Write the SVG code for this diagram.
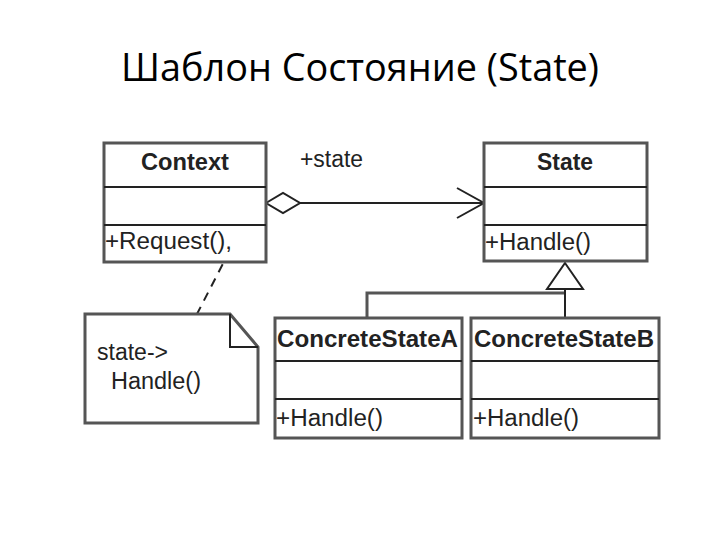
<svg xmlns="http://www.w3.org/2000/svg" width="720" height="540" viewBox="0 0 720 540">
<style>
.box{fill:#fff;stroke:#555;stroke-width:3}
.div{stroke:#222;stroke-width:2}
.t{font-family:"Liberation Sans",Arial,sans-serif;font-size:23px;fill:#222}
.b{font-weight:bold}
.ln{fill:none;stroke:#222;stroke-width:2}
.title{font-family:"Open Sans","Noto Sans","Liberation Sans",sans-serif;font-size:38px;fill:#000}
</style>
<rect width="720" height="540" fill="#fff"/>
<text class="title" x="360" y="81" text-anchor="middle" textLength="478" lengthAdjust="spacingAndGlyphs">Шаблон Состояние (State)</text>

<g id="connectors">
  <path class="ln" d="M300,203 H484"/>
  <path class="ln" d="M457,188 L484,203 L457,218"/>
  <path class="ln" d="M266,203 L283,193 L300,203 L283,213 Z" fill="#fff"/>
  <path d="M230,250 L197,314" fill="none" stroke="#222" stroke-width="2" stroke-dasharray="9,7"/>
  <path d="M367,318 V293 H565" fill="none" stroke="#555" stroke-width="3"/>
  <path class="ln" d="M565,318 V289"/>
  <path class="ln" d="M565,263 L583,289 H547 Z" fill="#fff"/>
</g>

<g id="context">
  <rect class="box" x="104" y="143" width="162" height="119"/>
  <line class="div" x1="104" y1="187" x2="266" y2="187"/>
  <line class="div" x1="104" y1="225" x2="266" y2="225"/>
  <text class="t b" x="185" y="170" text-anchor="middle" textLength="88" lengthAdjust="spacingAndGlyphs">Context</text>
  <text class="t" x="105" y="249" textLength="127" lengthAdjust="spacingAndGlyphs">+Request(),</text>
</g>

<g id="state-label">
  <text class="t" x="300" y="167" textLength="63" lengthAdjust="spacingAndGlyphs">+state</text>
</g>

<g id="state">
  <rect class="box" x="484" y="143" width="163" height="118"/>
  <line class="div" x1="484" y1="187" x2="647" y2="187"/>
  <line class="div" x1="484" y1="225" x2="647" y2="225"/>
  <text class="t b" x="565" y="170" text-anchor="middle" textLength="56" lengthAdjust="spacingAndGlyphs">State</text>
  <text class="t" x="485" y="250" textLength="106" lengthAdjust="spacingAndGlyphs">+Handle()</text>
</g>

<g id="note">
  <path d="M85,314 H230 L258,347 V423 H85 Z" fill="#fff" stroke="#555" stroke-width="3"/>
  <path class="ln" d="M230,314 V347 H258"/>
  <text class="t" x="97" y="360" textLength="71" lengthAdjust="spacingAndGlyphs">state-&gt;</text>
  <text class="t" x="111" y="389" textLength="90" lengthAdjust="spacingAndGlyphs">Handle()</text>
</g>

<g id="concrete-a">
  <rect class="box" x="275" y="318" width="187" height="120"/>
  <line class="div" x1="275" y1="361" x2="462" y2="361"/>
  <line class="div" x1="275" y1="399" x2="462" y2="399"/>
  <text class="t b" x="277" y="347" textLength="181" lengthAdjust="spacingAndGlyphs">ConcreteStateA</text>
  <text class="t" x="276" y="426" textLength="107" lengthAdjust="spacingAndGlyphs">+Handle()</text>
</g>

<g id="concrete-b">
  <rect class="box" x="471" y="318" width="188" height="120"/>
  <line class="div" x1="471" y1="361" x2="659" y2="361"/>
  <line class="div" x1="471" y1="399" x2="659" y2="399"/>
  <text class="t b" x="474" y="347" textLength="180" lengthAdjust="spacingAndGlyphs">ConcreteStateB</text>
  <text class="t" x="473" y="426" textLength="106" lengthAdjust="spacingAndGlyphs">+Handle()</text>
</g>
</svg>
